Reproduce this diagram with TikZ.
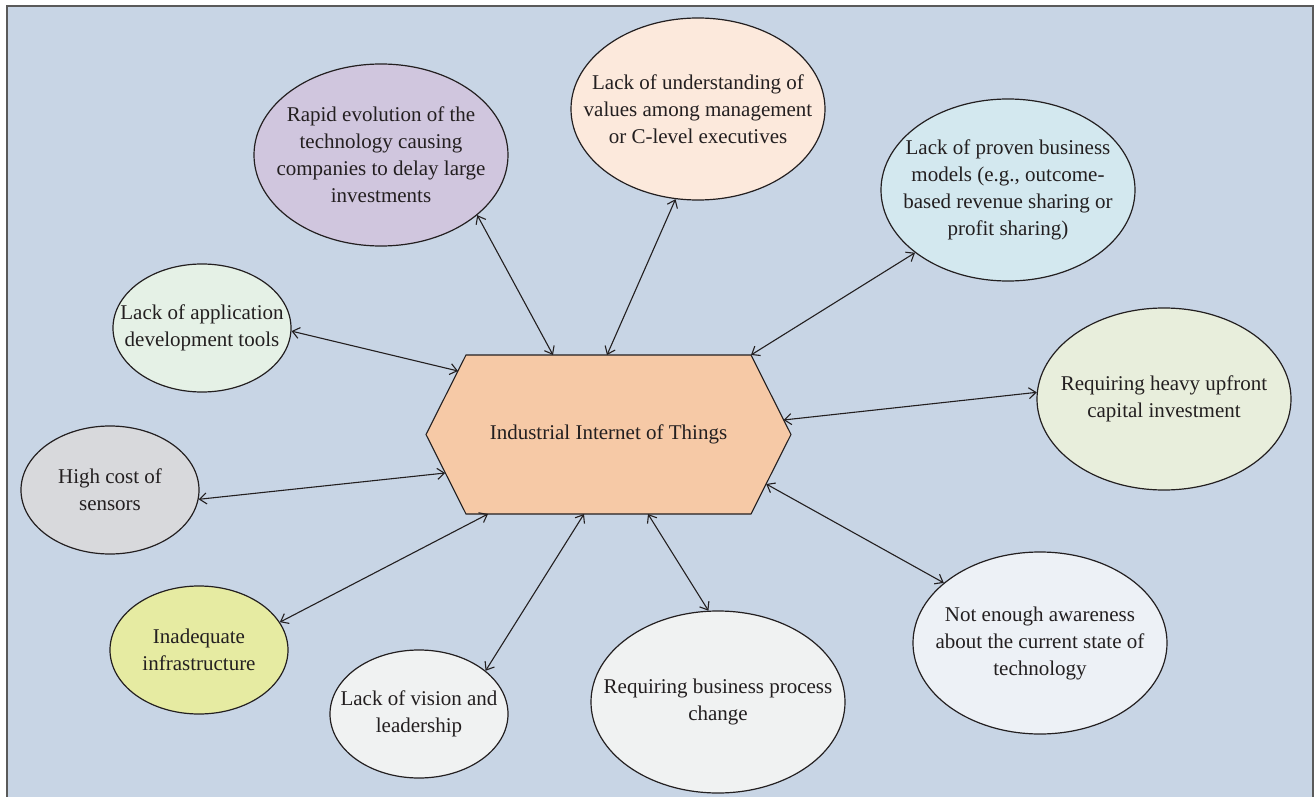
\documentclass[tikz,border=0pt]{standalone}
\usepackage{fontspec}
\setmainfont{Liberation Serif}
\usetikzlibrary{arrows.meta,shapes.geometric}
\definecolor{bgblue}{RGB}{200,213,229}
\definecolor{framegray}{RGB}{90,90,90}
\definecolor{ink}{RGB}{35,31,32}
\definecolor{hexfill}{RGB}{246,201,166}
\definecolor{cRapid}{RGB}{208,198,222}
\definecolor{cUnder}{RGB}{252,233,220}
\definecolor{cProven}{RGB}{211,232,239}
\definecolor{cHeavy}{RGB}{232,238,220}
\definecolor{cAware}{RGB}{237,241,246}
\definecolor{cProc}{RGB}{240,242,242}
\definecolor{cVision}{RGB}{240,242,242}
\definecolor{cInfra}{RGB}{230,235,162}
\definecolor{cCost}{RGB}{216,217,220}
\definecolor{cApp}{RGB}{229,241,230}
\tikzset{
  txt/.style={text=ink,font=\fontsize{21}{27}\selectfont,align=center,inner sep=0pt},
  bigell/.style={ellipse,draw=ink,line width=1.2pt,inner sep=0pt,
    minimum width=254pt,minimum height=182pt},
  smallell/.style={ellipse,draw=ink,line width=1.2pt,inner sep=0pt,
    minimum width=178pt,minimum height=128pt},
  hexnode/.style={txt,rectangle,inner sep=0pt,minimum width=365pt,minimum height=159pt},
  hexline/.style={fill=hexfill,draw=ink,line width=1.1pt,line join=miter},
  link/.style={draw=ink,line width=1.1pt,
    {Straight Barb[length=7pt,width=11pt]}-{Straight Barb[length=7pt,width=11pt]}},
  inside/.style={label={[txt]center:{#1}}},
}
\begin{document}
\begin{tikzpicture}[x=1pt,y=-1pt]
\useasboundingbox (0,0) rectangle (1315,797);
\fill[white] (0,0) rectangle (1315,797);
\fill[bgblue] (7,6) rectangle (1313,810);
\draw[framegray,line width=2pt] (7,810) -- (7,6) -- (1313,6) -- (1313,810);

% central hexagon
\coordinate (hc) at (608.5,434.5);
\path[hexline] ([shift={(-182.5,0)}]hc) -- ([shift={(-142.5,-79.5)}]hc)
  -- ([shift={(142.5,-79.5)}]hc) -- ([shift={(182.5,0)}]hc)
  -- ([shift={(142.5,79.5)}]hc) -- ([shift={(-142.5,79.5)}]hc) -- cycle;
\node[hexnode] (hex) at (hc) {Industrial Internet of Things};

% surrounding ellipses
\node[bigell,fill=cRapid,inside={Rapid evolution of the\\technology causing\\companies to delay large\\investments}] (rapid) at (381,155) {};
\node[bigell,fill=cUnder,inside={Lack of understanding of\\values among management\\or C-level executives}] (under) at (698,109) {};
\node[bigell,fill=cProven,inside={Lack of proven business\\models (e.g., outcome-\\based revenue sharing or\\profit sharing)}] (proven) at (1008,190) {};
\node[bigell,fill=cHeavy,inside={Requiring heavy upfront\\capital investment}] (heavy) at (1164,399) {};
\node[bigell,fill=cAware,inside={Not enough awareness\\about the current state of\\technology}] (aware) at (1040,643) {};
\node[bigell,fill=cProc,inside={Requiring business process\\change}] (proc) at (718,702) {};
\node[smallell,fill=cVision,inside={Lack of vision and\\leadership}] (vision) at (419,714) {};
\node[smallell,fill=cInfra,inside={Inadequate\\infrastructure}] (infra) at (199,650) {};
\node[smallell,fill=cCost,inside={High cost of\\sensors}] (cost) at (110,490) {};
\node[smallell,fill=cApp,inside={Lack of application\\development tools}] (app) at (202,328) {};

% connectors
\draw[link] (rapid.-32) -- ([shift={(-55.5,-79.5)}]hex.center);
\draw[link] (under.-104) -- ([shift={(-1.5,-79.5)}]hex.center);
\draw[link] (proven.-146) -- ([shift={(142.5,-79.5)}]hex.center);
\draw[link] (heavy.177) -- ([shift={(175,-14.5)}]hex.center);
\draw[link] (aware.148) -- ([shift={(157.7,49.5)}]hex.center);
\draw[link] (proc.96) -- ([shift={(39.5,79.5)}]hex.center);
\draw[link] (vision.33) -- ([shift={(-24.5,79.5)}]hex.center);
\draw[link] (infra.19) -- ([shift={(-120.5,79.5)}]hex.center);
\draw[link] (cost.-6) -- ([shift={(-163.3,38.5)}]hex.center);
\draw[link] (app.-2) -- ([shift={(-150.5,-63.5)}]hex.center);
\end{tikzpicture}
\end{document}
